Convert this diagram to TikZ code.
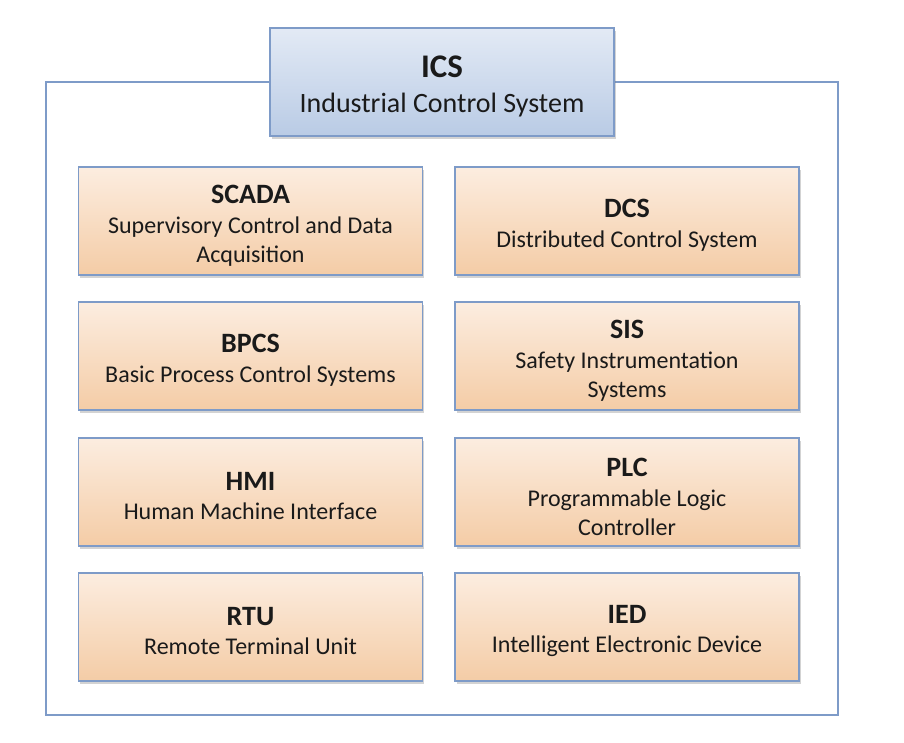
\documentclass[tikz,border=0pt]{standalone}
\usepackage{fontspec}
\setmainfont{Carlito}
\usetikzlibrary{shadows}
\definecolor{frameblue}{HTML}{7E9BC8}
\definecolor{orangetop}{HTML}{FCEDE0}
\definecolor{orangebot}{HTML}{F4CCA6}
\definecolor{bluetop}{HTML}{E3EAF5}
\definecolor{bluebot}{HTML}{B9CBE5}
\definecolor{txt}{HTML}{1A1A1A}
\newcommand{\ttl}[1]{{\fontsize{28}{29.5}\selectfont\bfseries #1}}
\tikzset{
  sysbox/.style={draw=frameblue, line width=1.5pt, top color=orangetop, bottom color=orangebot,
    minimum width=344pt, minimum height=108pt, align=center, inner sep=0pt, text=txt,
    drop shadow={shadow xshift=1.5pt, shadow yshift=-2.5pt, opacity=0.35}},
  icsbox/.style={draw=frameblue, line width=1.5pt, top color=bluetop, bottom color=bluebot,
    minimum width=344pt, minimum height=108pt, align=center, inner sep=0pt, text=txt,
    drop shadow={shadow xshift=1.5pt, shadow yshift=-2.5pt, opacity=0.35}},
  outer/.style={draw=frameblue, line width=2pt},
  lbl/.style={align=center, inner sep=0pt, text=txt, font=\fontsize{24}{29.5}\selectfont},
}
\begin{document}
\begin{tikzpicture}[x=1pt,y=-1pt]
\useasboundingbox (0,0) rectangle (904,742);
\draw[outer] (46,82) rectangle (838,715);
\node[icsbox] (ics) at (442,82) {};
\node[lbl, font=\fontsize{28}{35}\selectfont] (icst) at (442,86) {{\fontsize{33}{35}\selectfont\bfseries ICS}\\Industrial Control System};
\node[sysbox] (scada) at (250.5,221) {};
\node[lbl] (scadat) at (250.5,226) {\ttl{SCADA}\\Supervisory Control and Data\\Acquisition};
\node[sysbox] (dcs) at (627,221) {};
\node[lbl] (dcst) at (627,225) {\ttl{DCS}\\Distributed Control System};
\node[sysbox] (bpcs) at (250.5,356) {};
\node[lbl] (bpcst) at (250.5,360) {\ttl{BPCS}\\Basic Process Control Systems};
\node[sysbox] (sis) at (627,356) {};
\node[lbl] (sist) at (627,361) {\ttl{SIS}\\Safety Instrumentation\\Systems};
\node[sysbox] (hmi) at (250.5,492) {};
\node[lbl] (hmit) at (250.5,496) {\ttl{HMI}\\Human Machine Interface};
\node[sysbox] (plc) at (627,492) {};
\node[lbl] (plct) at (627,497) {\ttl{PLC}\\Programmable Logic\\Controller};
\node[sysbox] (rtu) at (250.5,627) {};
\node[lbl] (rtut) at (250.5,631) {\ttl{RTU}\\Remote Terminal Unit};
\node[sysbox] (ied) at (627,627) {};
\node[lbl] (iedt) at (627,631) {\ttl{IED}\\Intelligent Electronic Device};
\end{tikzpicture}
\end{document}
